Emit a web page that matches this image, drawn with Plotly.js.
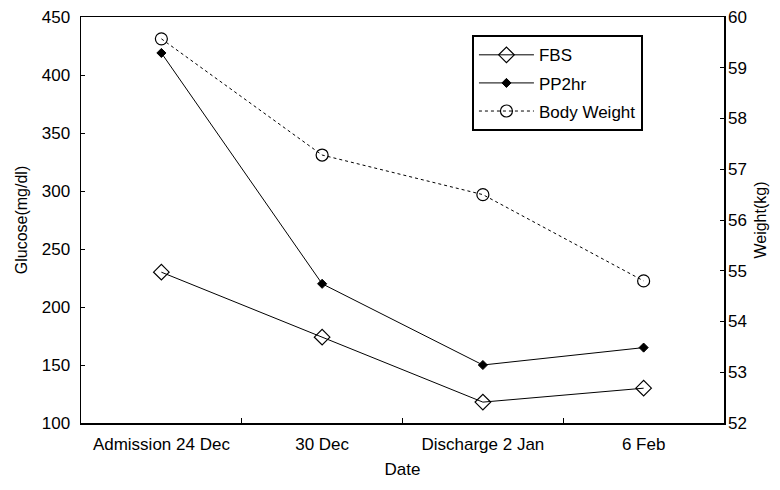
<!DOCTYPE html>
<html><head><meta charset="utf-8">
<script src="https://cdn.plot.ly/plotly-3.0.1.min.js"></script>
<style>html,body{margin:0;padding:0;background:#fff}#c{width:780px;height:490px}</style>
</head><body><div id="c"></div>
<script>
const categories = ["Admission 24 Dec", "30 Dec", "Discharge 2 Jan", "6 Feb"];
const fbs = [230, 174, 118, 130];
const pp2hr = [419, 220, 150, 165];
const bodyWeight = [59.57, 57.28, 56.5, 54.8];

const fam = "Liberation Sans, Arial, sans-serif";
const traces = [
  {x: categories, y: fbs, name: "FBS", legendgroup: "a", type: "scatter", mode: "lines+markers",
   line: {color: "#000", width: 1},
   marker: {symbol: "diamond-open", size: 12, color: "#000", line: {width: 1.2, color: "#000"}}},
  {x: categories, y: pp2hr, name: "PP2hr", legendgroup: "b", type: "scatter", mode: "lines+markers",
   line: {color: "#000", width: 1},
   marker: {symbol: "diamond", size: 7, color: "#000", line: {width: 1, color: "#000"}}},
  {x: categories, y: bodyWeight, name: "Body Weight", legendgroup: "c", type: "scatter", mode: "lines+markers",
   yaxis: "y2",
   line: {color: "#000", width: 1, dash: "dot"},
   marker: {symbol: "circle-open", size: 12, color: "#000", line: {width: 1.2, color: "#000"}}}
];
const layout = {
  width: 780, height: 490,
  margin: {l: 81, r: 56, t: 17, b: 67},
  paper_bgcolor: "#fff", plot_bgcolor: "#fff",
  font: {family: fam, color: "#000", size: 17},
  showlegend: true,
  legend: {x: 0.608, y: 0.955, xanchor: "left", yanchor: "top",
           bgcolor: "#fff", bordercolor: "#000", borderwidth: 2,
           font: {family: fam, size: 17, color: "#000"},
           tracegroupgap: 3, itemwidth: 55},
  xaxis: {type: "category", range: [-0.5, 3.5], showgrid: false, zeroline: false,
          showline: true, linecolor: "#000", linewidth: 1.5, mirror: true,
          ticks: "inside", ticklen: 5, tickson: "boundaries", tickcolor: "#000",
          tickfont: {size: 17}, ticklabelstandoff: 5,
          title: {text: "Date", font: {size: 17}, standoff: 10}},
  yaxis: {range: [100, 450], dtick: 50, showgrid: false, zeroline: false,
          showline: true, linecolor: "#000", linewidth: 1.5, mirror: true,
          ticks: "inside", ticklen: 4, tickcolor: "#000",
          tickfont: {size: 17}, ticklabelstandoff: 6,
          title: {text: "Glucose(mg/dl)", font: {size: 16}, standoff: 10}},
  yaxis2: {range: [52, 60], dtick: 1, overlaying: "y", side: "right",
           showgrid: false, zeroline: false, showline: false,
           ticks: "inside", ticklen: 4, tickcolor: "#000",
           tickfont: {size: 17}, ticklabelstandoff: 3,
           title: {text: "Weight(kg)", font: {size: 16}, standoff: 8}}
};
Plotly.newPlot("c", traces, layout, {displayModeBar: false, staticPlot: true});
</script></body></html>
